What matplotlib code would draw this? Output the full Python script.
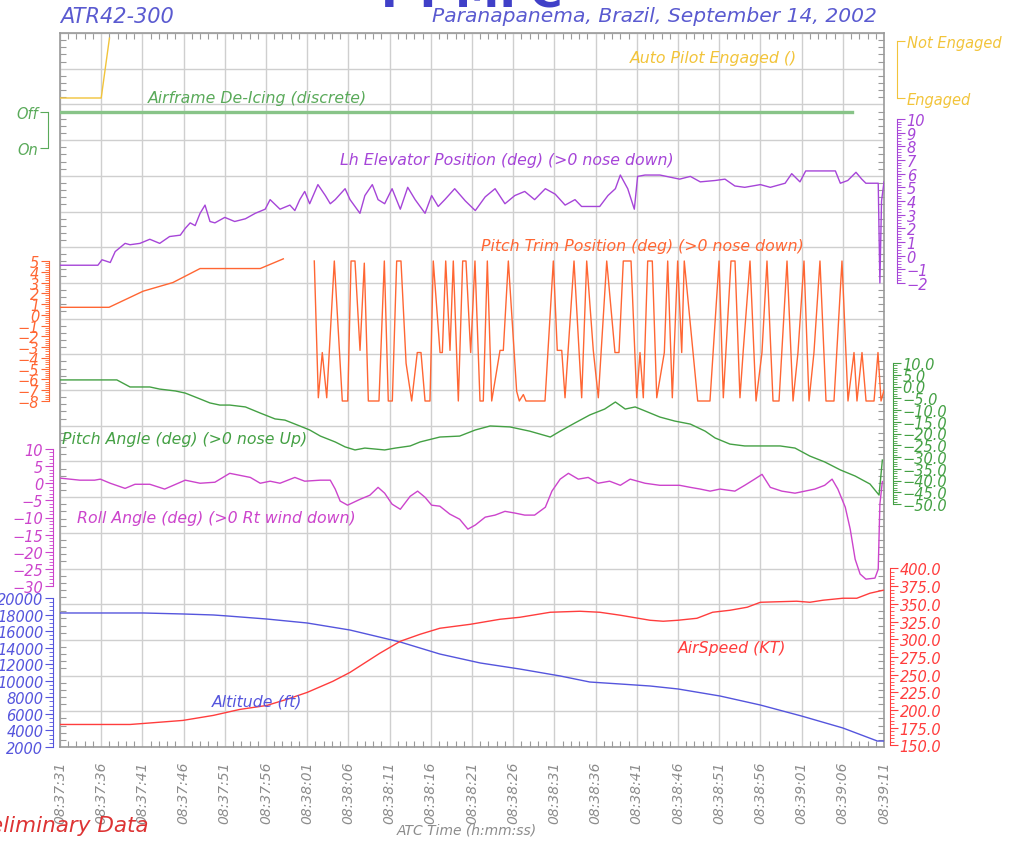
import matplotlib
matplotlib.use("Agg")
import matplotlib.pyplot as plt
import numpy as np
from matplotlib.ticker import FixedLocator, MultipleLocator

plt.rcParams['font.family'] = ['DejaVu Sans']
plt.rcParams['font.style'] = 'italic'

# ---- data (time = seconds after 08:37:31) ----
start_h, start_m, start_s = 8, 37, 31
tick_secs = list(range(0, 101, 5))
tick_labels = []
for s in tick_secs:
    tot = start_h * 3600 + start_m * 60 + start_s + s
    tick_labels.append("%02d:%02d:%02d" % (tot // 3600, (tot % 3600) // 60, tot % 60))

ap_t = [0, 5.0, 6.0]
ap_v = [0, 0, 1.05]

deice_t = [0, 96.1]
deice_v = [1, 1]

elev_t = [0, 4.6, 5.1, 6.1, 6.7, 7.9, 8.5, 9.7, 10.9, 12.1, 13.3, 14.6, 15.2, 15.8, 16.4,
          17.0, 17.6, 18.2, 18.8, 20.0, 21.2, 22.5, 23.7, 24.9, 25.5, 26.7, 27.9, 28.5,
          29.1, 29.7, 30.3, 31.3, 32.2, 32.8, 33.4, 34.6, 35.2, 36.4, 37.0, 37.9, 38.6,
          39.4, 40.3, 41.3, 42.2, 43.1, 44.3, 45.1, 45.9, 46.7, 47.9, 49.2, 50.4, 51.6,
          52.8, 54.0, 55.2, 56.4, 57.6, 58.9, 60.1, 61.3, 62.5, 63.3, 64.3, 65.5, 66.5,
          67.4, 68.0, 68.9, 69.7, 70.1, 71.0, 72.8, 75.2, 76.5, 77.7, 79.5, 80.7, 81.9,
          83.1, 85.0, 86.2, 88.0, 88.8, 89.8, 90.5, 94.1, 94.7, 95.6, 96.6, 97.3, 97.8,
          99.3, 99.5, 99.7, 100]
elev_v = [-0.7, -0.7, -0.3, -0.5, 0.3, 0.9, 0.8, 0.9, 1.2, 0.9, 1.4, 1.5, 2.0, 2.4, 2.2,
          3.1, 3.7, 2.5, 2.4, 2.8, 2.5, 2.7, 3.1, 3.4, 4.1, 3.4, 3.7, 3.3,
          4.1, 4.7, 3.8, 5.2, 4.4, 3.8, 4.1, 4.9, 4.1, 3.1, 4.4, 5.2, 4.1,
          3.8, 4.9, 3.4, 5.0, 4.1, 3.1, 4.4, 3.6, 4.1, 4.9, 4.0, 3.3, 4.3,
          4.9, 3.8, 4.4, 4.7, 4.1, 4.9, 4.5, 3.7, 4.1, 3.6, 3.6, 3.6, 4.4,
          4.9, 5.9, 4.9, 3.4, 5.8, 5.9, 5.9, 5.6, 5.8, 5.4, 5.5, 5.6, 5.1,
          5.0, 5.2, 5.0, 5.3, 6.0, 5.4, 6.2, 6.2, 5.3, 5.5, 6.1, 5.6, 5.3,
          5.3, -2.0, 4.0, 5.4]

trim_t = [0, 5.95, 10.1, 13.7, 17.0, 24.3, 27.1, 29.0,
          30.86, 31.35, 31.83, 32.37, 33.29, 34.26, 34.92, 35.32, 35.80, 36.41, 36.93,
          37.42, 38.71, 39.36, 39.84, 40.33, 40.86, 41.38, 42.0, 42.68, 43.36, 43.81,
          44.30, 44.90, 45.30, 46.12, 46.40, 46.81, 47.33, 47.73, 48.34, 48.87, 49.27,
          49.84, 50.36, 50.97, 51.37, 51.86, 52.39, 53.40, 53.80, 54.41, 55.42, 55.74,
          56.23, 56.55, 58.86, 59.87, 60.35, 60.89, 61.29, 62.38, 63.31, 63.92, 64.72,
          65.33, 66.35, 67.35, 67.84, 68.36, 69.30, 69.99, 70.39, 70.79, 71.32, 71.88,
          72.42, 73.34, 73.75, 74.31, 74.96, 75.45, 75.76, 77.39, 78.88, 79.98, 80.50,
          81.43, 81.92, 82.52, 82.92, 83.74, 84.47, 85.19, 85.80, 86.53, 87.26, 88.23,
          88.96, 89.56, 90.29, 90.90, 91.50, 92.23, 92.96, 93.93, 94.90, 95.63, 96.36,
          96.72, 97.33, 97.82, 98.79, 99.27, 99.64, 100]
trim_v = [0.7, 0.7, 2.2, 3.0, 4.3, 4.3, 5.2, np.nan,
          5, -7.7, -3.5, -7.7, 5, -8, -8, 5, 5, -3.3, 4.8,
          -8, -8, 5, -8, -8, 5, 5, -4.5, -8, -3.5, -3.5,
          -8, -8, 5, -3.5, -3.5, 5, -3.3, 5, -8, 5, 5,
          -3.5, 5, -8, -8, 5, -8, -3.3, -3.3, 5, -7.1, -8,
          -7.4, -8, -8, 5, -3.3, -3.3, -7.7, 5, -7.7, 5, -3.3,
          -7.7, 5, -3.5, -3.5, 5, 5, -7.7, -3.5, -7.7, 5, 5,
          -7.7, -3.5, 5, -7.7, 5, -3.5, 5, -8, -8, 5, -7.7,
          5, 5, -7.7, -3.3, 5, -8, -3.5, 5, -8, -8, 5,
          -8, -3.5, 5, -8, -3.5, 5, -8, -8, 5, -8, -3.5,
          -8, -3.5, -8, -8, -3.5, -8, -7]

pitch_t = [0, 6.9, 8.5, 10.9, 12.1, 14.0, 15.2, 17.0, 18.2, 19.4, 20.6, 22.5, 24.3, 26.1,
           27.3, 29.1, 30.3, 31.6, 33.4, 34.6, 35.8, 37.0, 39.4, 40.7, 42.5, 43.7, 46.1,
           48.5, 50.4, 52.2, 54.6, 57.0, 59.5, 60.7, 62.5, 64.3, 66.1, 67.4, 68.6, 69.8,
           71.0, 72.8, 74.6, 76.5, 78.3, 79.5, 81.3, 83.1, 87.4, 89.2, 91.0, 92.8, 94.7,
           96.5, 98.3, 99.4, 99.8]
pitch_v = [2.8, 2.8, -0.2, -0.2, -1.1, -1.9, -2.8, -5.3, -7.0, -7.9, -7.9, -8.7, -11.3, -13.8,
           -14.3, -16.8, -18.5, -21.1, -23.6, -25.7, -27.0, -26.2, -27.0, -26.2, -25.3, -23.6, -21.5,
           -21.1, -18.5, -16.8, -17.2, -19.0, -21.5, -19.0, -15.5, -12.1, -9.6, -6.6, -9.6, -8.7,
           -10.4, -13.0, -14.7, -16.0, -19.0, -21.9, -24.5, -25.3, -25.3, -26.2, -29.6, -32.1, -35.5,
           -38.1, -41.5, -46.2, -31.3]

roll_t = [0, 2.4, 4.2, 4.9, 6.1, 7.9, 9.1, 10.9, 12.7, 15.2, 17.0, 18.8, 20.6, 23.1, 24.3,
          25.5, 26.7, 28.5, 29.7, 31.6, 32.8, 33.4, 34.0, 34.9, 36.4, 37.6, 38.6, 39.4, 40.3,
          41.3, 42.5, 43.4, 44.3, 45.1, 46.1, 47.3, 48.5, 49.5, 50.4, 51.6, 52.8, 54.0, 55.2,
          56.4, 57.6, 58.9, 59.7, 60.7, 61.7, 62.9, 64.1, 65.3, 66.7, 68.0, 69.2, 71.0, 72.8,
          75.2, 76.5, 77.7, 78.9, 80.1, 81.9, 83.1, 84.3, 85.2, 86.2, 87.6, 89.2, 90.4, 91.6,
          92.8, 93.7, 94.4, 95.3, 95.9, 96.5, 97.1, 97.8, 98.9, 99.3, 99.5, 99.8]
roll_v = [1.5, 0.9, 0.9, 1.2, 0, -1.5, -0.3, -0.3, -1.7, 0.9, 0, 0.3, 2.9, 1.7, 0,
          0.6, 0, 1.7, 0.6, 0.9, 0.9, -1.7, -5.2, -6.4, -4.7, -3.5, -1.2, -2.9, -6.1,
          -7.6, -3.8, -2.3, -4.1, -6.4, -6.7, -9.0, -10.5, -13.4, -12.2, -9.9, -9.3, -8.2, -8.7,
          -9.3, -9.3, -7.0, -2.3, 1.2, 2.9, 1.2, 1.7, 0, 0.6, -0.6, 1.2, 0, -0.6,
          -0.6, -1.2, -1.7, -2.3, -1.7, -2.3, -0.6, 1.2, 2.6, -1.2, -2.3, -2.9, -2.3, -1.7,
          -0.6, 1.2, -1.7, -7.0, -13.4, -22.2, -26.5, -28.0, -27.7, -25.1, -6.1, 0.5]

alt_t = [0, 10.1, 14.9, 18.6, 20.3, 25.1, 30.0, 35.2, 41.3, 46.1, 51.0, 55.8, 60.7, 64.3,
         68.0, 71.6, 75.0, 80.1, 85.0, 90.0, 95.0, 99.2, 100]
alt_v = [18190, 18190, 18070, 17950, 17830, 17460, 16980, 16130, 14680, 13230, 12150, 11420,
         10580, 9850, 9610, 9370, 9010, 8160, 7070, 5740, 4300, 2720, 2720]

spd_t = [0, 8.5, 10.1, 14.9, 18.6, 21.8, 25.1, 27.5, 30.0, 33.1, 35.2, 38.8, 41.3, 43.7,
         46.1, 49.8, 53.4, 55.8, 59.5, 63.1, 65.5, 68.0, 71.6, 73.2, 75.0, 77.3, 79.2, 81.3,
         83.4, 85.0, 89.4, 91.0, 92.6, 95.0, 96.7, 98.3, 99.9]
spd_v = [179.7, 179.7, 181.1, 185.4, 192.5, 200.9, 206.6, 215.1, 225.0, 240.6, 253.3, 280.2,
         297.2, 307.1, 315.6, 321.2, 328.3, 331.1, 338.2, 339.6, 338.2, 334.0, 326.9, 325.5,
         326.9, 329.7, 338.2, 341.0, 345.3, 352.3, 353.8, 352.3, 355.2, 358.0, 358.0, 365.1, 369.3]

# ---- layout ----
W, H = 1010, 845
L, R, T, B = 60, 884, 34, 748
rect = [L / W, 1 - B / H, (R - L) / W, (B - T) / H]
GRAY = '#9a9a9a'

fig = plt.figure(figsize=(W / 100, H / 100), dpi=100)
ax = fig.add_axes(rect)
ax.set_xlim(0, 100)
ax.set_ylim(0, 20)
ax.set_xticks(tick_secs)
ax.set_xticklabels(tick_labels, rotation=90, va='top', ha='center', color='#8c8c8c', fontsize=10)
ax.set_yticks(range(21))
ax.set_yticklabels([])
ax.xaxis.set_minor_locator(MultipleLocator(1))
ax.yaxis.set_minor_locator(MultipleLocator(0.2))
ax.grid(True, which='major', color='#cfcfcf', lw=1)
ax.tick_params(which='both', direction='in', color=GRAY, top=True, right=True)
ax.tick_params(which='major', length=0)
ax.tick_params(axis='x', which='major', pad=10)
ax.tick_params(which='minor', length=4, width=0.8)
for sp in ax.spines.values():
    sp.set_color(GRAY)
    sp.set_linewidth(1.2)


def px(x, y):
    return x / W, 1 - y / H


def series_axis(v_hi, p_hi, v_lo, p_lo, side, xpix, color, ticks, labels, minor=None, size=10):
    a = fig.add_axes(rect)
    a.patch.set_visible(False)
    a.set_xlim(0, 100)
    s = (v_hi - v_lo) / (p_lo - p_hi)
    a.set_ylim(v_lo - (B - p_lo) * s, v_hi + (p_hi - T) * s)
    for sp in a.spines.values():
        sp.set_visible(False)
    sp = a.spines[side]
    sp.set_visible(True)
    sp.set_position(('axes', (xpix - L) / (R - L)))
    sp.set_bounds(v_lo, v_hi)
    sp.set_color(color)
    a.yaxis.set_ticks_position(side)
    a.set_yticks(ticks)
    a.set_yticklabels(labels, fontsize=size)
    if minor is not None:
        a.yaxis.set_minor_locator(FixedLocator(minor))
    a.tick_params(axis='y', which='both', colors=color, direction='out', pad=1)
    a.tick_params(axis='y', which='major', length=6)
    a.tick_params(axis='y', which='minor', length=3)
    a.tick_params(axis='x', which='both', bottom=False, top=False, labelbottom=False)
    return a


def num(v, dec=0):
    txt = ("%.*f" % (dec, v))
    return txt.replace('-', '\u2212')


AP_C, DEICE_C, ELEV_C, TRIM_C = '#f2c43a', '#5aaa5a', '#a645d8', '#ff6633'
PITCH_C, ROLL_C, ALT_C, SPD_C = '#44a044', '#cc44cc', '#5555dd', '#ff3d3d'

# autopilot
a = series_axis(1, 42, 0, 99, 'right', 897, AP_C, [0, 1], ['Engaged', 'Not Engaged'], size=10.5)
a.plot(ap_t, ap_v, color=AP_C, lw=1)

# de-icing
a = series_axis(1, 113, 0, 149, 'left', 48, DEICE_C, [0, 1], ['On', 'Off'], size=10.5)
a.plot(deice_t, deice_v, color='#88c488', lw=2.4)

# elevator
ticks = list(range(-2, 11))
a = series_axis(10, 120, -2, 284, 'right', 897, ELEV_C, ticks, [num(v) for v in ticks],
                minor=np.arange(-2, 10.01, 0.2), size=10.5)
a.plot(elev_t, elev_v, color=ELEV_C, lw=1)

# pitch trim
ticks = list(range(-8, 6))
a = series_axis(5, 262, -8, 402, 'left', 49, TRIM_C, ticks, [num(v) for v in ticks],
                minor=np.arange(-8, 5.01, 0.2), size=10.5)
a.plot(trim_t, trim_v, color=TRIM_C, lw=1)

# pitch angle
ticks = list(range(-50, 11, 5))
a = series_axis(10, 364, -50, 505, 'right', 893, PITCH_C, ticks, [num(v, 1) for v in ticks],
                minor=np.arange(-50, 10.01, 1), size=10.5)
a.plot(pitch_t, pitch_v, color=PITCH_C, lw=1)

# roll angle
ticks = list(range(-30, 11, 5))
a = series_axis(10, 450, -30, 587, 'left', 53, ROLL_C, ticks, [num(v) for v in ticks],
                minor=np.arange(-30, 10.01, 1), size=10.5)
a.plot(roll_t, roll_v, color=ROLL_C, lw=1)

# altitude
ticks = list(range(2000, 20001, 2000))
a = series_axis(20000, 599, 2000, 748, 'left', 53, ALT_C, ticks, [num(v) for v in ticks],
                minor=np.arange(2000, 20001, 500), size=10.5)
a.plot(alt_t, alt_v, color=ALT_C, lw=1)

# airspeed
ticks = list(range(150, 401, 25))
a = series_axis(400, 569.5, 150, 746.5, 'right', 890, SPD_C, ticks, [num(v, 1) for v in ticks],
                minor=np.arange(150, 400.01, 5), size=10.5)
a.plot(spd_t, spd_v, color=SPD_C, lw=1)

# ---- series captions ----
fs = 11.3
fig.text(*px(630, 59), 'Auto Pilot Engaged ()', color=AP_C, fontsize=fs, va='center')
fig.text(*px(148, 99), 'Airframe De-Icing (discrete)', color=DEICE_C, fontsize=fs, va='center')
fig.text(*px(340, 161), 'Lh Elevator Position (deg) (>0 nose down)', color=ELEV_C, fontsize=fs, va='center')
fig.text(*px(481, 247), 'Pitch Trim Position (deg) (>0 nose down)', color=TRIM_C, fontsize=fs, va='center')
fig.text(*px(62, 440), 'Pitch Angle (deg) (>0 nose Up)', color=PITCH_C, fontsize=fs, va='center')
fig.text(*px(77, 519), 'Roll Angle (deg) (>0 Rt wind down)', color=ROLL_C, fontsize=fs, va='center')
fig.text(*px(678, 649), 'AirSpeed (KT)', color=SPD_C, fontsize=fs, va='center')
fig.text(*px(212, 702), 'Altitude (ft)', color=ALT_C, fontsize=fs, va='center')

# ---- headers / footers ----
fig.text(*px(472, 7), 'PT-MFC', color='#4040c8', fontsize=32, fontweight='bold',
         style='normal', ha='center', va='baseline')
fig.text(*px(60, 17), 'ATR42-300', color='#5a5ad0', fontsize=15, va='center')
fig.text(*px(877, 17), 'Paranapanema, Brazil, September 14, 2002', color='#5a5ad0',
         fontsize=14.6, va='center', ha='right')
fig.text(*px(148, 826), 'Preliminary Data', color='#dd3333', fontsize=15.5, va='center', ha='right')
fig.text(*px(467, 831), 'ATC Time (h:mm:ss)', color='#8c8c8c', fontsize=10, va='center', ha='center')

fig.savefig('out.png', dpi=100)
